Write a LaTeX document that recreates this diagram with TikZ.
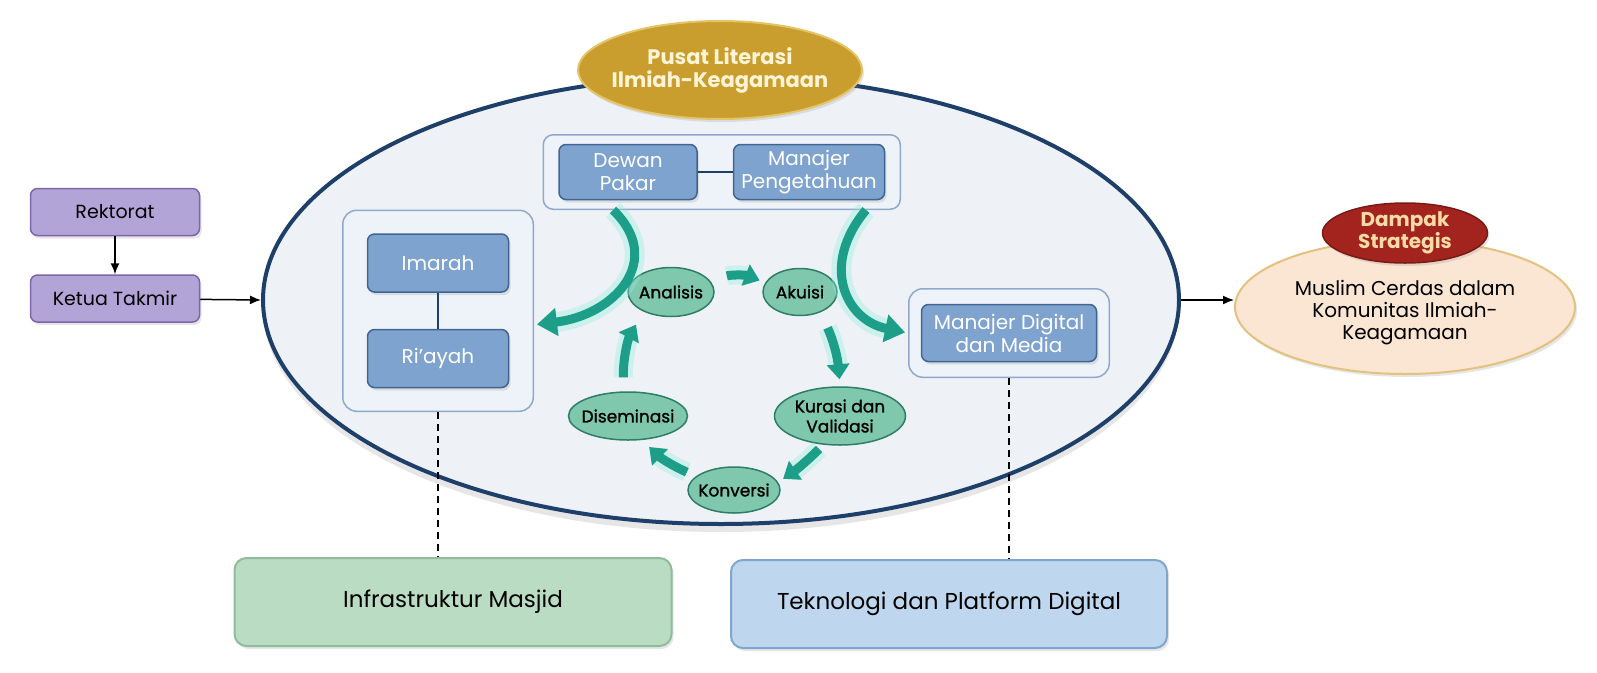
\documentclass[tikz,border=0pt]{standalone}
\usepackage{fontspec}
\setmainfont{Poppins}
\newfontfamily\stagefont{Poppins}[FakeBold=1.2]
\usepackage{tikz}
\usetikzlibrary{shapes.geometric}
\usetikzlibrary{backgrounds}
\usetikzlibrary{positioning}
\usetikzlibrary{calc}
\usetikzlibrary{fit}
\usetikzlibrary{shadows}
\usetikzlibrary{arrows.meta}
\definecolor{navy}{HTML}{1E3F6A}
\definecolor{ovalfill}{HTML}{EEF2F7}
\definecolor{gold}{HTML}{C99E2E}
\definecolor{goldline}{HTML}{E3C466}
\definecolor{goldtext}{HTML}{FFF4D6}
\definecolor{purplefill}{HTML}{B3A4D8}
\definecolor{purpleline}{HTML}{7E66AA}
\definecolor{unitfill}{HTML}{7FA3CF}
\definecolor{unitline}{HTML}{3F6593}
\definecolor{groupline}{HTML}{90A9CB}
\definecolor{groupfill}{HTML}{EEF3F9}
\definecolor{stagefill}{HTML}{80C8AD}
\definecolor{stageline}{HTML}{2E7D66}
\definecolor{flowteal}{HTML}{1D9E88}
\definecolor{flowglow}{HTML}{8DEFD9}
\definecolor{infrafill}{HTML}{BADCC2}
\definecolor{infraline}{HTML}{90BC9B}
\definecolor{techfill}{HTML}{BFD7EE}
\definecolor{techline}{HTML}{80A5CF}
\definecolor{impactfill}{HTML}{FBE5D3}
\definecolor{impactline}{HTML}{E2C27E}
\definecolor{impactred}{HTML}{A3231F}
\definecolor{impactdark}{HTML}{7A1A15}
\definecolor{impacttext}{HTML}{F8DBA5}
\tikzset{softshadow/.style={drop shadow={opacity=.2,shadow xshift=2pt,shadow yshift=-3pt}},
orgbox/.style={draw=purpleline,fill=purplefill,rounded corners=7,line width=1.5pt,minimum width=169pt,minimum height=47pt,font=\fontsize{19}{22}\selectfont,softshadow},
unitbox/.style={draw=unitline,fill=unitfill,rounded corners=7,line width=1.5pt,text=white,align=center,inner sep=2pt,font=\fontsize{20}{23}\selectfont,softshadow},
grpbox/.style={draw=groupline,fill=groupfill,rounded corners=14,line width=1.5pt},
stage/.style={ellipse,draw=stageline,fill=stagefill,line width=1.5pt,inner xsep=-12pt,inner ysep=-4pt,align=center,font=\stagefont\fontsize{17}{20}\selectfont},
flowarr/.style={draw=flowteal,line width=9pt,-{Triangle[length=15pt,width=22pt]},preaction={draw=flowglow,line width=19pt,opacity=.35}},
bigflow/.style={draw=flowteal,line width=9pt,-{Triangle[length=20pt,width=27pt]},preaction={draw=flowglow,line width=20pt,opacity=.35}},
layerbox/.style={rounded corners=12,line width=2pt,minimum width=437pt,minimum height=88pt,font=\fontsize{23}{27}\selectfont,softshadow},
linkarr/.style={-{Latex[length=11pt,width=9pt]},line width=1.5pt},
guide/.style={dash pattern=on 7pt off 5pt,line width=1.5pt}}
\begin{document}
\begin{tikzpicture}[x=1pt,y=-1pt]
\useasboundingbox (0,0) rectangle (1597,672);

% the big oval
\begin{scope}[on background layer]
\node (pusat) [ellipse, draw=navy, fill=ovalfill, line width=4pt, minimum width=916pt, minimum height=448pt, drop shadow={opacity=.2,shadow xshift=0pt,shadow yshift=-8pt}] at (721,300) {};
\end{scope}
\node (judul) [ellipse, draw=goldline, fill=gold, line width=2pt, minimum width=284pt, minimum height=98pt, inner sep=0pt, inner xsep=-10pt, text=goldtext, align=center, font=\bfseries\fontsize{21}{23}\selectfont, softshadow] at (720,70) {Pusat Literasi\\Ilmiah-Keagamaan};

\node (rektorat) [orgbox] at (115,212) {Rektorat};
\node (ketua) [orgbox, below=38pt of rektorat] {Ketua Takmir};
\draw[linkarr] (rektorat) -- (ketua);
\draw[linkarr] (ketua) -- (pusat.west);

% units
\node (imarah) [unitbox, minimum width=141pt, minimum height=58pt] at (438,263) {Imarah};
\node (riayah) [unitbox, minimum width=141pt, minimum height=58pt, below=36pt of imarah] {Ri’ayah};
\draw[navy, line width=1.5pt] (imarah) -- (riayah);
\node (dewan) [unitbox, minimum width=138pt, minimum height=55pt] at (628,172) {Dewan\\Pakar};
\node (manajer) [unitbox, minimum width=151pt, minimum height=55pt, right=35pt of dewan] {Manajer\\Pengetahuan};
\draw[navy, line width=1.5pt] (dewan) -- (manajer);
\node (digital) [unitbox, minimum width=175pt, minimum height=57pt] at (1009,333) {Manajer Digital\\dan Media};
\begin{scope}[on background layer]
\node (kiri) [grpbox, fit=(imarah)(riayah), inner xsep=24pt, inner ysep=23pt] {};
\node (atas) [grpbox, fit=(dewan)(manajer), inner xsep=15pt, inner ysep=9pt, rounded corners=10] {};
\node (kanan) [grpbox, fit=(digital), inner xsep=12pt, inner ysep=15pt] {};
\end{scope}

% knowledge cycle
\node (analisis) [stage, minimum width=86pt, minimum height=49pt] at (671,292) {Analisis};
\node (akuisi) [stage, minimum width=74pt, minimum height=47pt] at (800,292) {Akuisi};
\node (kurasi) [stage, minimum width=131pt, minimum height=58pt] at (840,416) {Kurasi dan\\Validasi};
\node (konversi) [stage, minimum width=92pt, minimum height=46pt] at (734,490) {Konversi};
\node (diseminasi) [stage, minimum width=119pt, minimum height=48pt] at (628,416) {Diseminasi};
\draw[flowarr, shorten <=17pt, shorten >=6pt] (analisis.15) to[bend left=20] (akuisi.165);
\draw[flowarr, shorten <=17pt, shorten >=7pt] (akuisi.-45) to[bend left=10] (kurasi.north);
\draw[flowarr, shorten <=6pt, shorten >=6pt] (kurasi.-120) to[bend left=5] (konversi.10);
\draw[flowarr, shorten <=10pt, shorten >=10pt] (konversi.160) to[bend left=10] (diseminasi.-60);
\draw[flowarr, shorten <=14pt, shorten >=15pt] (diseminasi.100) to[bend left=15] (analisis.-145);

\draw[bigflow, shorten >=3pt] ([xshift=-15pt]dewan.south |- atas.south) .. controls (665,260) and (615,315) .. ([yshift=-14pt]kiri.east);
\draw[bigflow, shorten >=3pt] ([xshift=57pt]manajer.south |- atas.south) .. controls (820,265) and (845,320) .. (kanan.west);

% foundations
\node (infra) [layerbox, draw=infraline, fill=infrafill] at (453,602) {Infrastruktur Masjid};
\node (tek) [layerbox, draw=techline, fill=techfill, minimum width=436pt] at (949,604) {Teknologi dan Platform Digital};
\draw[guide] (kiri.south) -- (kiri.south |- infra.north);
\draw[guide] (kanan.south) -- (kanan.south |- tek.north);

% impact
\node (dampak) [ellipse, draw=impactline, fill=impactfill, line width=2pt, minimum width=340pt, minimum height=134pt, inner sep=0pt, softshadow,
  label={[align=center, font=\fontsize{20}{22}\selectfont, yshift=-6pt]center:Muslim Cerdas dalam\\Komunitas Ilmiah-\\Keagamaan}] at (1405,307) {};
\node (strategis) [ellipse, draw=impactdark, fill=impactred, line width=1.5pt, minimum width=165pt, minimum height=60pt, inner sep=0pt, inner ysep=-3pt, text=impacttext, align=center, font=\bfseries\fontsize{20}{22}\selectfont, softshadow] at (1405,233) {Dampak\\Strategis};
\draw[linkarr] (pusat.east) -- (pusat.east -| dampak.west);
\end{tikzpicture}
\end{document}
